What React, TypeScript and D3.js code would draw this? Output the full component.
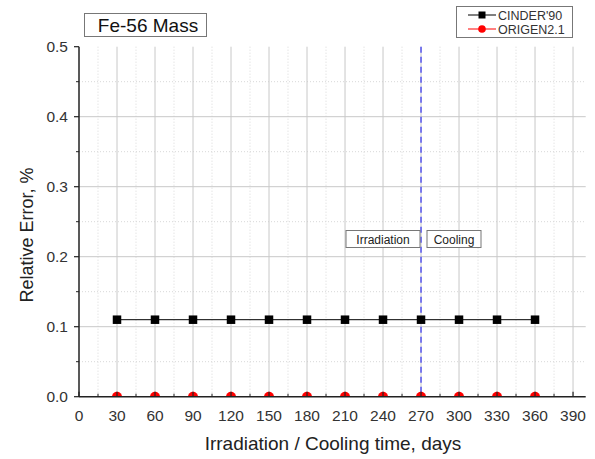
import React from "react";
import * as d3 from "d3";

const days = [30, 60, 90, 120, 150, 180, 210, 240, 270, 300, 330, 360];
const cinder90 = [0.11, 0.11, 0.11, 0.11, 0.11, 0.11, 0.11, 0.11, 0.11, 0.11, 0.11, 0.11];
const origen21 = [0, 0, 0, 0, 0, 0, 0, 0, 0, 0, 0, 0];
const xTicks = [0, 30, 60, 90, 120, 150, 180, 210, 240, 270, 300, 330, 360, 390];
const yTicks = [0.0, 0.1, 0.2, 0.3, 0.4, 0.5];
const seriesNames = ["CINDER'90", "ORIGEN2.1"];
const title = "Fe-56 Mass";
const boundaryDay = 270;

export default function App() {
  const W = 595, H = 459;
  const left = 79, right = 585.7, top = 46.7, bottom = 396.7;
  const x = d3.scaleLinear().domain([0, 400]).range([left, right]);
  const y = d3.scaleLinear().domain([0, 0.5]).range([bottom, top]);
  const font = "Arial, 'Liberation Sans', sans-serif";
  const minorX = d3.range(15, 400, 30);
  const minorY = [0.05, 0.15, 0.25, 0.35, 0.45];
  const line = d3.line<number>().x((_, i) => x(days[i])).y((d) => y(d));

  return (
    <svg width={W} height={H} style={{ position: "absolute", left: 0, top: 0 }} fontFamily={font}>
      <rect width={W} height={H} fill="#fff" />
      <defs>
        <clipPath id="plotclip">
          <rect x={left} y={top - 10} width={right - left + 10} height={bottom - top + 10} />
        </clipPath>
      </defs>
      {/* minor grid */}
      {minorX.map((v) => (
        <line key={"mx" + v} x1={x(v)} x2={x(v)} y1={top} y2={bottom} stroke="#d8d8d8" strokeWidth={1} strokeDasharray="1,2" />
      ))}
      {minorY.map((v) => (
        <line key={"my" + v} x1={left} x2={right} y1={y(v)} y2={y(v)} stroke="#d8d8d8" strokeWidth={1} strokeDasharray="1,2" />
      ))}
      {/* major grid */}
      {xTicks.filter((v) => v > 0).map((v) => (
        <line key={"gx" + v} x1={x(v)} x2={x(v)} y1={top} y2={bottom} stroke="#c8c8c8" strokeWidth={1} />
      ))}
      {yTicks.filter((v) => v > 0 && v < 0.5).map((v) => (
        <line key={"gy" + v} x1={left} x2={right} y1={y(v)} y2={y(v)} stroke="#c8c8c8" strokeWidth={1} />
      ))}
      {/* boundary line */}
      <line x1={x(boundaryDay)} x2={x(boundaryDay)} y1={top} y2={bottom} stroke="#5555ee" strokeWidth={1.5} strokeDasharray="6,4" />
      {/* annotation boxes */}
      <g fontSize={12} fill="#222">
        <rect x={346} y={230.5} width={74} height={17} fill="#fff" stroke="#777" strokeWidth={1} />
        <text x={383} y={243.5} textAnchor="middle">Irradiation</text>
        <rect x={427} y={230.5} width={54} height={17} fill="#fff" stroke="#777" strokeWidth={1} />
        <text x={454} y={243.5} textAnchor="middle">Cooling</text>
      </g>
      {/* series */}
      <g clipPath="url(#plotclip)">
        <path d={line(cinder90) || ""} fill="none" stroke="#000" strokeWidth={1} />
        {cinder90.map((v, i) => (
          <rect key={"c" + i} x={x(days[i]) - 4.25} y={y(v) - 4.25} width={8.5} height={8.5} fill="#000" />
        ))}
        <path d={line(origen21) || ""} fill="none" stroke="#ff0000" strokeWidth={1} />
        {origen21.map((v, i) => (
          <circle key={"o" + i} cx={x(days[i])} cy={y(v)} r={5} fill="#ff0000" />
        ))}
      </g>
      {/* axes */}
      <line x1={left} x2={left} y1={top} y2={bottom} stroke="#222" strokeWidth={1.5} />
      <line x1={left} x2={right} y1={bottom} y2={bottom} stroke="#222" strokeWidth={1.5} />
      {yTicks.map((v) => (
        <g key={"yt" + v}>
          <line x1={left - 5} x2={left} y1={y(v)} y2={y(v)} stroke="#222" strokeWidth={1.2} />
          <text x={left - 11} y={y(v) + 5.5} textAnchor="end" fontSize={15.5} fill="#333">{v.toFixed(1)}</text>
        </g>
      ))}
      {minorY.map((v) => (
        <line key={"ymt" + v} x1={left - 3} x2={left} y1={y(v)} y2={y(v)} stroke="#222" strokeWidth={1} />
      ))}
      {xTicks.map((v) => (
        <g key={"xt" + v}>
          <line x1={x(v)} x2={x(v)} y1={bottom} y2={bottom - 5} stroke="#222" strokeWidth={1.2} />
          <text x={x(v)} y={bottom + 24.5} textAnchor="middle" fontSize={15.5} fill="#333">{v}</text>
        </g>
      ))}
      {minorX.map((v) => (
        <line key={"xmt" + v} x1={x(v)} x2={x(v)} y1={bottom} y2={bottom - 3} stroke="#222" strokeWidth={1} />
      ))}
      {/* axis titles */}
      <text x={333} y={450} textAnchor="middle" fontSize={19} fill="#222">Irradiation / Cooling time, days</text>
      <text transform={`translate(33, 235) rotate(-90)`} textAnchor="middle" fontSize={18} fill="#222">Relative Error, %</text>
      {/* title box */}
      <rect x={84.5} y={13.5} width={122} height={23} fill="#fff" stroke="#777" strokeWidth={1} />
      <text x={148} y={32} textAnchor="middle" fontSize={19} fill="#111">{title}</text>
      {/* legend */}
      <rect x={456.5} y={6.5} width={116} height={31} fill="#fff" stroke="#777" strokeWidth={1} />
      <line x1={468} x2={496} y1={15} y2={15} stroke="#000" strokeWidth={1} />
      <rect x={478.5} y={11.5} width={7} height={7} fill="#000" />
      <text x={498} y={19.5} fontSize={12.5} fill="#333">{seriesNames[0]}</text>
      <line x1={468} x2={496} y1={29} y2={29} stroke="#ff0000" strokeWidth={1} />
      <circle cx={482} cy={29} r={3.8} fill="#ff0000" />
      <text x={498} y={33.5} fontSize={12.5} fill="#333">{seriesNames[1]}</text>
    </svg>
  );
}
